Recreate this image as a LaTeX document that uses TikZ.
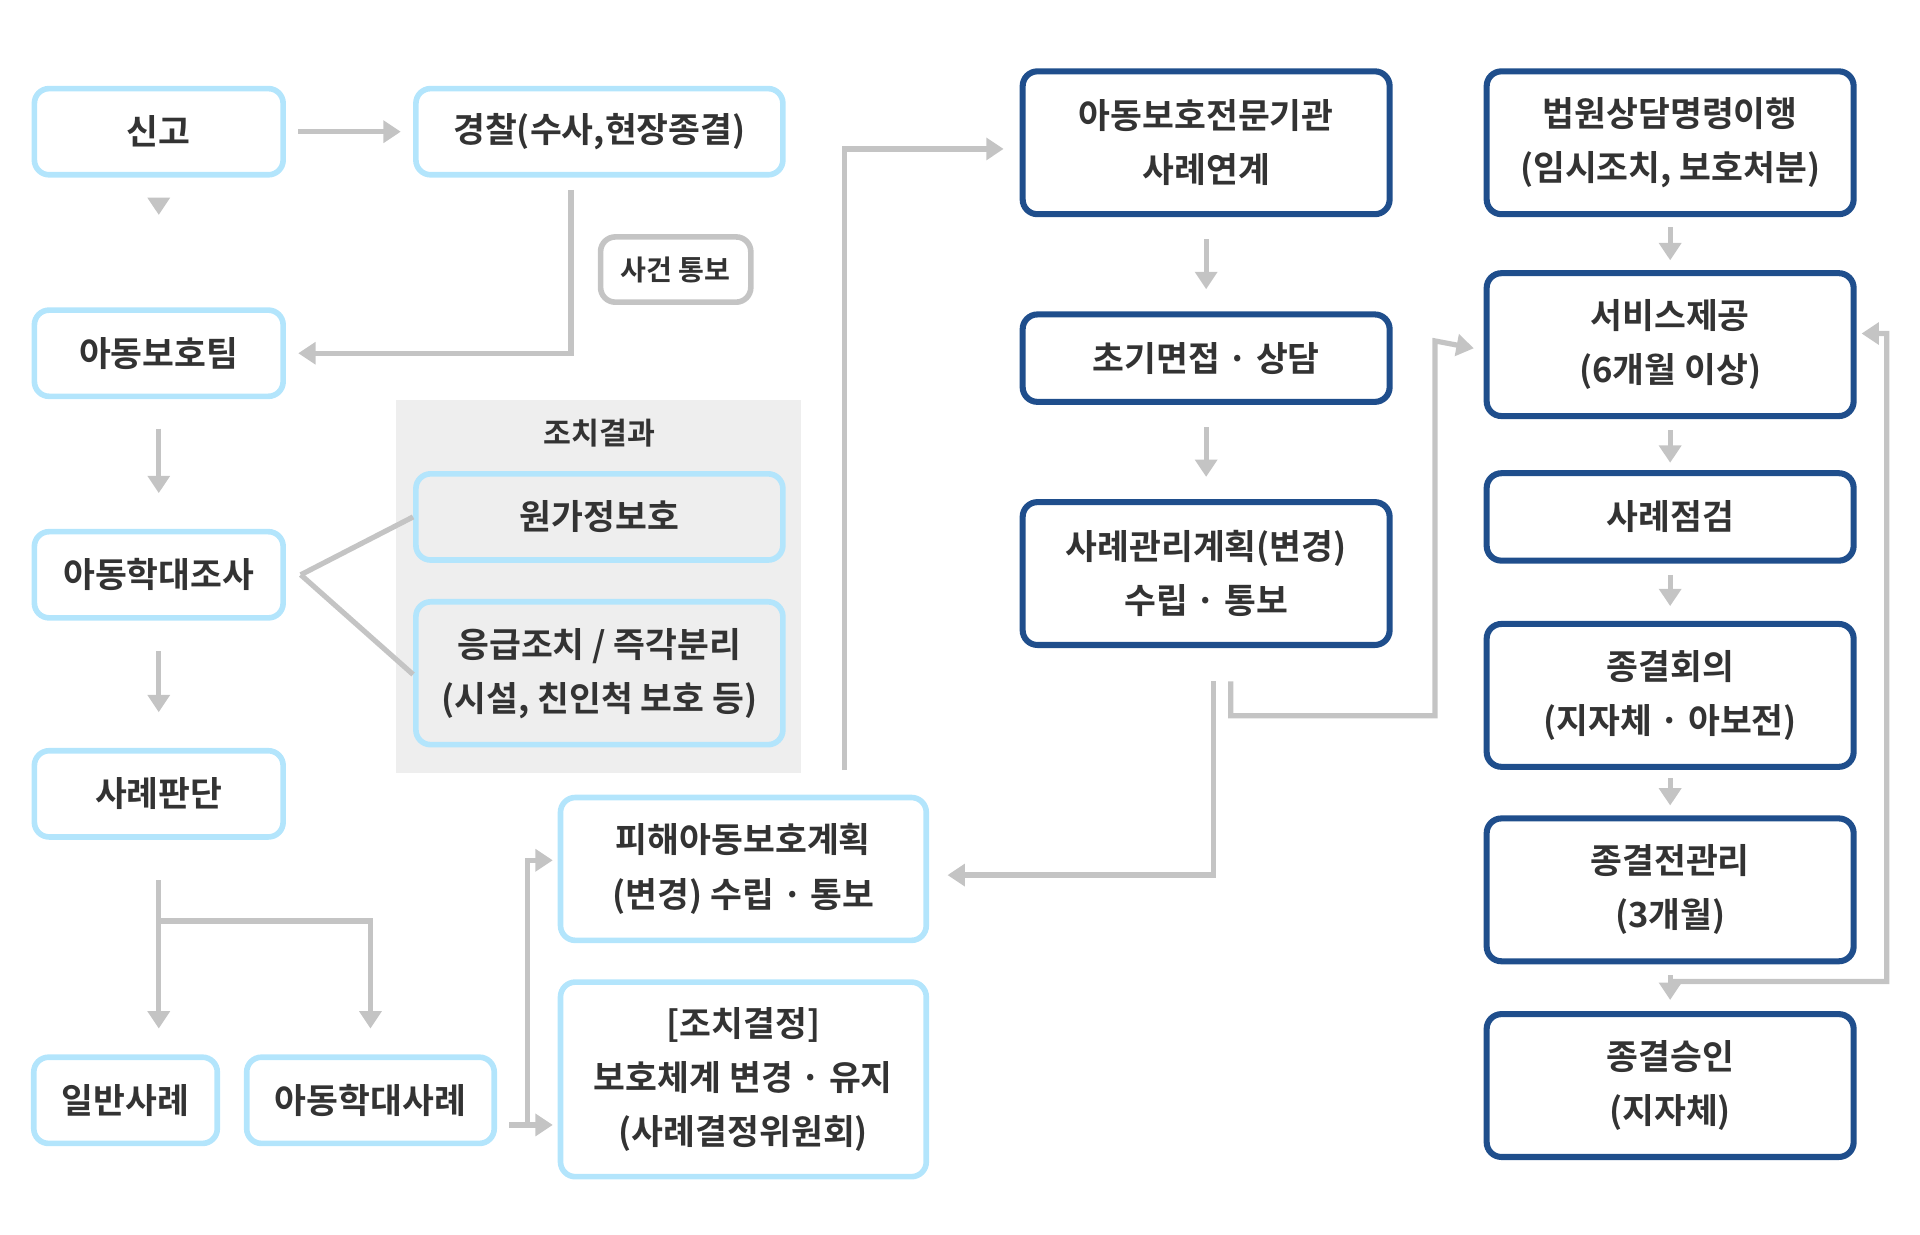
\documentclass[tikz,border=0pt]{standalone}
\usepackage{fontspec}
\setmainfont{Noto Sans CJK KR}[BoldFont={* Bold}]
\usetikzlibrary{arrows.meta,calc}
\definecolor{lblue}{HTML}{B3E5FC}
\definecolor{dblue}{HTML}{1F4E8C}
\definecolor{lgray}{HTML}{C4C4C4}
\definecolor{bggray}{HTML}{EEEEEE}
\definecolor{txt}{HTML}{333333}
\tikzset{
  box/.style={draw,rounded corners=0.12cm,line width=1.3pt,align=center,inner sep=0pt,
    text=txt,font=\fontsize{8}{12.5}\selectfont\bfseries},
  lbox/.style={box,draw=lblue},
  dbox/.style={box,draw=dblue,line width=1.4pt},
  arr/.style={draw=lgray,line width=1.2pt,-{Triangle[length=4pt,width=5pt]}},
  ln/.style={draw=lgray,line width=1.2pt}
}
\begin{document}
\begin{tikzpicture}[x=0.01cm,y=-0.01cm]
        \useasboundingbox (0,0) rectangle (1560,1003);
        \fill[bggray] (322,325) rectangle (651,628);
        \node[text=txt,font=\fontsize{7}{9}\selectfont\bfseries] (result) at (487,352) {조치결과};

        \begin{scope}[every node/.style={lbox,minimum height=0.7cm}]
        % Left column
        \node[minimum width=2.02cm] (report) at (129,107) {신고};
        \node[minimum width=2.02cm] (team) at (129,287) {아동보호팀};
        \node[minimum width=2.02cm] (invest) at (129,467) {아동학대조사};
        \node[minimum width=2.02cm] (judge) at (129,645) {사례판단};
        \node[minimum width=1.49cm] (general) at (102,894) {일반사례};
        \node[minimum width=2.01cm] (abuse) at (301,894) {아동학대사례};
        % Middle column
        \node[minimum width=2.98cm] (police) at (487,107) {경찰(수사,현장종결)};
        \node[minimum width=2.98cm] (home) at (487,420) {원가정보호};
        \node[minimum width=2.98cm,minimum height=1.16cm] (emerg) at (487,547) {응급조치 / 즉각분리\\(시설, 친인척 보호 등)};
        \node[minimum width=2.97cm,minimum height=1.16cm] (plan) at (604,706) {피해아동보호계획\\(변경) 수립 · 통보};
        \node[minimum width=2.97cm,minimum height=1.58cm] (decide) at (604,877) {[조치결정]\\보호체계 변경 · 유지\\(사례결정위원회)};
        \end{scope}
        \node[box,draw=lgray,minimum width=1.22cm,minimum height=0.53cm,
              font=\fontsize{6.5}{8}\selectfont\bfseries] (notify) at (549,219) {사건 통보};

        \begin{scope}[every node/.style={dbox,minimum width=2.98cm,minimum height=1.16cm}]
        % Agency column
        \node (link) at (980,116) {아동보호전문기관\\사례연계};
        \node[minimum height=0.71cm] (interview) at (980,291) {초기면접 · 상담};
        \node (caseplan) at (980,466) {사례관리계획(변경)\\수립 · 통보};
        % Service column
        \node (court) at (1357,116) {법원상담명령이행\\(임시조치, 보호처분)};
        \node (service) at (1357,280) {서비스제공\\(6개월 이상)};
        \node[minimum height=0.71cm] (check) at (1357,420) {사례점검};
        \node (meeting) at (1357,565) {종결회의\\(지자체 · 아보전)};
        \node (preend) at (1357,723) {종결전관리\\(3개월)};
        \node (approve) at (1357,882) {종결승인\\(지자체)};
        \end{scope}

        \draw[arr,shorten <=0.1cm,shorten >=0.1cm] (report) -- (police);
        \draw[arr,shorten <=0.23cm,shorten >=0.75cm] (report) -- (team);
        \draw[arr,shorten <=0.24cm,shorten >=0.29cm] (team) -- (invest);
        \draw[arr,shorten <=0.25cm,shorten >=0.29cm] (invest) -- (judge);
        \draw[arr] ([xshift=-0.23cm,yshift=-0.1cm]police.south) |- ([xshift=0.1cm]team.east);
        \draw[ln] ([xshift=0.12cm]invest.east) -- (home.west);
        \draw[ln] ([xshift=0.12cm]invest.east) -- ([yshift=-0.01cm]emerg.west);
        \draw[arr] ([yshift=-0.33cm]judge.south) -- ([yshift=0.21cm]general.north -| judge);
        \draw[arr] ([yshift=-0.66cm]judge.south) -| ([yshift=0.21cm]abuse.north);
        \draw[arr] ([xshift=0.1cm,yshift=-0.2cm]abuse.east) -- ([xshift=-0.04cm,yshift=-0.2cm]abuse.east -| decide.west);
        \draw[arr] ([xshift=0.25cm,yshift=-0.2cm]abuse.east) |- ([xshift=-0.04cm,yshift=0.07cm]plan.west);
        \draw[arr] ([yshift=0.2cm]plan.north -| 686,0) |- ([xshift=-0.13cm,yshift=-0.05cm]link.west);
        \draw[arr,shorten <=0.18cm,shorten >=0.18cm] (link) -- (interview);
        \draw[arr,shorten <=0.18cm,shorten >=0.18cm] (interview) -- (caseplan);
        \draw[arr] ([xshift=0.06cm,yshift=-0.27cm]caseplan.south) |- ([xshift=0.15cm,yshift=-0.05cm]plan.east);
        \draw[arr] ([xshift=0.2cm,yshift=-0.27cm]caseplan.south) -- ++(0,28) -| (1166,277) -- ([xshift=-0.08cm,yshift=-0.03cm]service.west);
        \draw[arr,shorten <=0.08cm,shorten >=0.08cm] (court) -- (service);
        \draw[arr,shorten <=0.09cm,shorten >=0.06cm] (service) -- (check);
        \draw[arr,shorten <=0.09cm,shorten >=0.12cm] (check) -- (meeting);
        \draw[arr,shorten <=0.07cm,shorten >=0.08cm] (meeting) -- (preend);
        \draw[arr,shorten <=0.09cm,shorten >=0.09cm] (preend) -- (approve);
        \draw[arr] ([yshift=-0.14cm]preend.south) -| (1533,271) -- ([xshift=0.04cm,yshift=0.09cm]service.east);
    \end{tikzpicture}
\end{document}
